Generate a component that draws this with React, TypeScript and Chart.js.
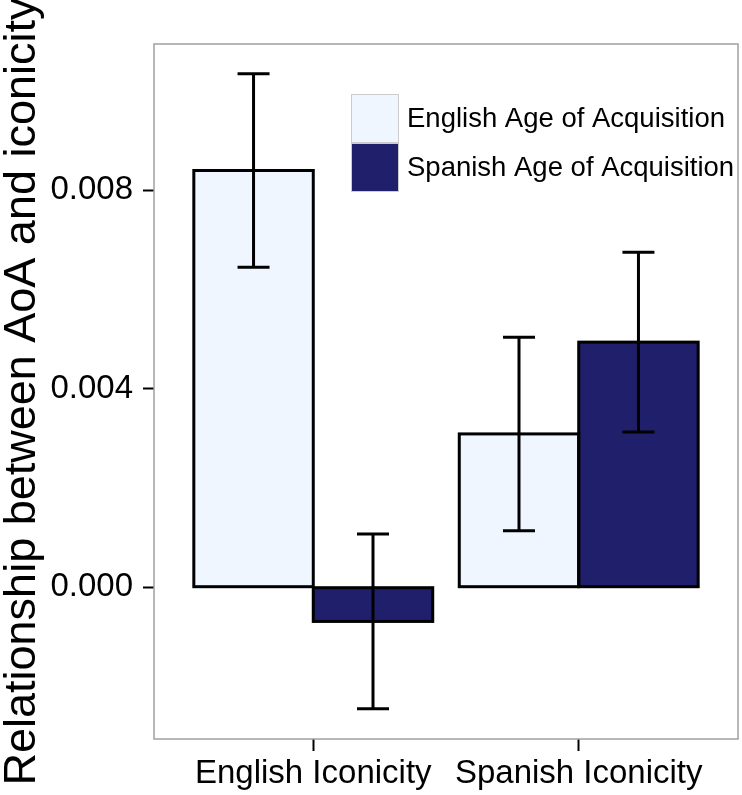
import React, { useEffect, useRef } from "react";
import { Chart, registerables } from "chart.js";

Chart.register(...registerables);

const categories = ["English Iconicity", "Spanish Iconicity"];
const seriesNames = ["English Age of Acquisition", "Spanish Age of Acquisition"];
const englishAoA = [0.0084, 0.00309];
const englishAoAErr = [0.00195, 0.00195];
const spanishAoA = [-0.00069, 0.00494];
const spanishAoAErr = [0.00176, 0.00181];
const yTicks = [0, 0.004, 0.008];
const yMin = -0.00306;
const yMax = 0.01095;
const yTitle = "Relationship between AoA and iconicity";

const LIGHT = "#f0f6ff";
const DARK = "#201f6c";
const FONT = "'Liberation Sans', Arial, Helvetica, sans-serif";

const errors = [englishAoAErr, spanishAoAErr];

const panelPlugin = {
  id: "panel",
  afterDatasetsDraw(chart: any) {
    const { ctx, chartArea, scales } = chart;
    ctx.save();
    // bar outlines (centred on the bar edge)
    ctx.strokeStyle = "#000";
    ctx.lineWidth = 3;
    ctx.lineJoin = "miter";
    chart.data.datasets.forEach((_ds: any, di: number) => {
      const meta = chart.getDatasetMeta(di);
      meta.data.forEach((el: any) => {
        const top = Math.min(el.y, el.base);
        const h = Math.abs(el.base - el.y);
        ctx.strokeRect(el.x - el.width / 2, top, el.width, h);
      });
    });
    // error bars
    ctx.lineWidth = 3;
    chart.data.datasets.forEach((ds: any, di: number) => {
      const meta = chart.getDatasetMeta(di);
      meta.data.forEach((el: any, i: number) => {
        const v = ds.data[i].y;
        const e = errors[di][i];
        const yTop = scales.y.getPixelForValue(v + e);
        const yBot = scales.y.getPixelForValue(v - e);
        const x = el.x;
        const hw = 16;
        ctx.beginPath();
        ctx.moveTo(x, yTop);
        ctx.lineTo(x, yBot);
        ctx.moveTo(x - hw, yTop);
        ctx.lineTo(x + hw, yTop);
        ctx.moveTo(x - hw, yBot);
        ctx.lineTo(x + hw, yBot);
        ctx.stroke();
      });
    });
    // panel border
    ctx.strokeStyle = "#a0a0a0";
    ctx.lineWidth = 1.5;
    ctx.strokeRect(
      chartArea.left,
      chartArea.top,
      chartArea.right - chartArea.left,
      chartArea.bottom - chartArea.top
    );
    // legend
    const bx = chartArea.left + 197;
    const by = chartArea.top + 50;
    const bw = 48;
    const bh = 49;
    chart.data.datasets.forEach((ds: any, di: number) => {
      const y0 = by + di * bh;
      ctx.fillStyle = ds.backgroundColor;
      ctx.fillRect(bx, y0, bw, bh);
      ctx.strokeStyle = "#cccccc";
      ctx.lineWidth = 1;
      ctx.strokeRect(bx + 0.5, y0 + 0.5, bw - 1, bh - 1);
      ctx.fillStyle = "#000";
      ctx.font = `27.5px ${FONT}`;
      ctx.textBaseline = "middle";
      ctx.textAlign = "left";
      ctx.fillText(ds.label, bx + bw + 8, y0 + bh / 2 + 1);
    });
    ctx.restore();
  },
};

export default function App() {
  const ref = useRef<HTMLCanvasElement | null>(null);
  useEffect(() => {
    if (!ref.current) return;
    const chart = new Chart(ref.current, {
      type: "bar",
      data: {
        datasets: [
          {
            label: seriesNames[0],
            data: categories.map((_, i) => ({ x: i + 1, y: englishAoA[i] })),
            backgroundColor: LIGHT,
            borderWidth: 0,
          },
          {
            label: seriesNames[1],
            data: categories.map((_, i) => ({ x: i + 1, y: spanishAoA[i] })),
            backgroundColor: DARK,
            borderWidth: 0,
          },
        ],
      },
      options: {
        responsive: false,
        animation: false,
        categoryPercentage: 0.9,
        barPercentage: 1,
        layout: { padding: { top: 44, right: 4, left: 0, bottom: 0 } },
        plugins: {
          legend: { display: false },
          tooltip: { enabled: false },
        },
        scales: {
          x: {
            type: "linear",
            min: 0.4,
            max: 2.6,
            offset: false,
            grid: {
              offset: false,
              drawOnChartArea: false,
              drawTicks: true,
              tickLength: 12,
              tickColor: "#000",
              tickWidth: 2,
            },
            border: { display: false },
            afterBuildTicks: (s: any) => {
              s.ticks = categories.map((_, i) => ({ value: i + 1 }));
            },
            afterFit: (s: any) => {
              s.height = 56;
            },
            ticks: {
              autoSkip: false,
              maxRotation: 0,
              minRotation: 0,
              padding: 3,
              color: "#000",
              font: { family: FONT, size: 33 },
              callback: (v: any) => categories[Math.round(Number(v)) - 1],
            },
          },
          y: {
            type: "linear",
            min: yMin,
            max: yMax,
            grid: {
              drawOnChartArea: false,
              drawTicks: true,
              tickLength: 11,
              tickColor: "#000",
              tickWidth: 2,
            },
            border: { display: false },
            afterBuildTicks: (s: any) => {
              s.ticks = yTicks.map((v) => ({ value: v }));
            },
            afterFit: (s: any) => {
              s.width = 154;
            },
            ticks: {
              padding: 10,
              color: "#000",
              font: { family: FONT, size: 33 },
              callback: (v: any) => Number(v).toFixed(3),
            },
            title: {
              display: true,
              text: yTitle,
              color: "#000",
              font: { family: FONT, size: 45, lineHeight: 1 },
              padding: { top: 0, bottom: 0 },
            },
          },
        },
      },
      plugins: [panelPlugin],
    } as any);
    return () => chart.destroy();
  }, []);
  return (
    <canvas
      ref={ref}
      width={742}
      height={795}
      style={{ position: "absolute", left: 0, top: 0, display: "block" }}
    />
  );
}
